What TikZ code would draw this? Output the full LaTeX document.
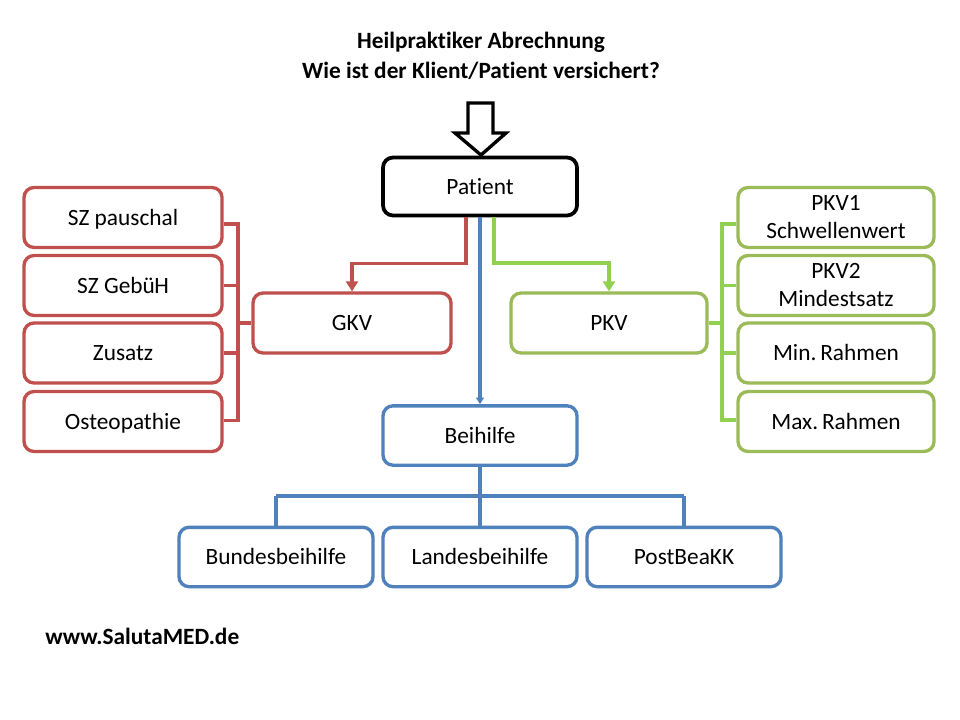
\documentclass[tikz,border=0pt]{standalone}
\usepackage{fontspec}
\setmainfont{Carlito}[Ligatures=NoCommon]
\usetikzlibrary{arrows.meta}
\definecolor{cred}{HTML}{C0504D}
\definecolor{cgreen}{HTML}{9BBB59}
\definecolor{cgreenl}{HTML}{92D050}
\definecolor{cblue}{HTML}{4F81BD}
\begin{document}
\begin{tikzpicture}[x=0.75pt,y=-0.75pt,
  box/.style={draw,line width=2.5pt,rounded corners=7.5pt,fill=white,
    inner sep=0pt,text height=14pt,text depth=2.7pt,font=\fontsize{17.5}{21}\selectfont},
  twoline/.style={align=center,text height={},text depth={}},
  blackbox/.style={box,draw=black,line width=2.8pt,minimum width=145.5pt,minimum height=43.5pt},
  redbox/.style={box,draw=cred,minimum width=148.5pt,minimum height=45pt},
  greenbox/.style={box,draw=cgreen,minimum width=147pt,minimum height=45pt},
  bluebox/.style={box,draw=cblue,minimum width=145.5pt,minimum height=44.5pt},
  rline/.style={draw=cred,line width=2.5pt},
  gline/.style={draw=cgreenl,line width=2.8pt},
  bline/.style={draw=cblue,line width=2.3pt},
  tip/.style={-{Triangle[length=7.5pt,width=9pt]}}
]
\useasboundingbox (0,0) rectangle (960,720);
\fill[white] (0,0) rectangle (960,720);

% title
\node[align=center,font=\fontsize{17.5}{23}\selectfont\bfseries] (title) at (481,56)
  {Heilpraktiker Abrechnung\\Wie ist der Klient/Patient versichert?};
\node[anchor=west,font=\fontsize{17.5}{20}\selectfont\bfseries,inner sep=0pt] (url) at (45,636) {www.SalutaMED.de};

% block arrow
\draw[line width=2.5pt,fill=white,line join=miter]
  (468,103) -- (493,103) -- (493,133) -- (506,133) -- (481,155) -- (455,133) -- (468,133) -- cycle;

% nodes
\node[blackbox] (patient) at (480,186.5) {Patient};
\node[redbox] (gkv) at (352,323) {GKV};
\node[greenbox] (pkv) at (609,323) {PKV};
\node[bluebox] (beihilfe) at (480,435.5) {Beihilfe};

\node[redbox] (szp) at (123,217.5) {SZ pauschal};
\node[redbox] (szg) at (123,285.5) {SZ Gebü\kern-0.5ptH};
\node[redbox] (zus) at (123,353) {Zusatz};
\node[redbox] (ost) at (123,421.5) {Osteopathie};

\node[greenbox,twoline] (pkv1) at (836,217.5) {PKV1\\Schwellenwert};
\node[greenbox,twoline] (pkv2) at (836,285.5) {PKV2\\Mindestsatz};
\node[greenbox] (minr) at (836,353) {Min.\,Rahmen};
\node[greenbox] (maxr) at (836,421.5) {Max.\,Rahmen};

\node[bluebox] (bund) at (276,557) {Bundesbeihilfe};
\node[bluebox] (land) at (480,557) {Landesbeihilfe};
\node[bluebox] (post) at (684,557) {PostBeaKK};

% connectors from patient
\draw[rline,tip] ([xshift=-10.5pt]patient.south) -- ++(0,46) -| (gkv.north);
\draw[gline,tip] ([xshift=10.5pt]patient.south) -- ++(0,46) -| (pkv.north);
\draw[bline,-{Triangle[length=5pt,width=6pt]}] (patient.south) -- (beihilfe.north);

% left bracket
\coordinate (lbx) at (238,0);
\draw[rline] ([yshift=-5pt]szp.east) -- ([yshift=-5pt]szp.east -| lbx) -- ([yshift=1pt]ost.east -| lbx) -- ([yshift=1pt]ost.east);
\draw[rline] (szg.east) -- (szg.east -| lbx);
\draw[rline] (zus.east) -- (zus.east -| lbx);
\draw[rline] (gkv.west) -- (gkv.west -| lbx);

% right bracket
\coordinate (rbx) at (722,0);
\draw[gline] ([yshift=-5pt]pkv1.west) -- ([yshift=-5pt]pkv1.west -| rbx) -- ([yshift=1pt]maxr.west -| rbx) -- ([yshift=1pt]maxr.west);
\draw[gline] (pkv2.west) -- (pkv2.west -| rbx);
\draw[gline] (minr.west) -- (minr.west -| rbx);
\draw[gline] (pkv.east) -- (pkv.east -| rbx);

% blue tree
\coordinate (ty) at (0,496);
\draw[bline] (beihilfe.south) -- (beihilfe.south |- ty);
\draw[bline] (bund.north |- ty) -- (post.north |- ty);
\draw[bline] (bund.north |- ty) -- (bund.north);
\draw[bline] (land.north |- ty) -- (land.north);
\draw[bline] (post.north |- ty) -- (post.north);
\end{tikzpicture}
\end{document}
